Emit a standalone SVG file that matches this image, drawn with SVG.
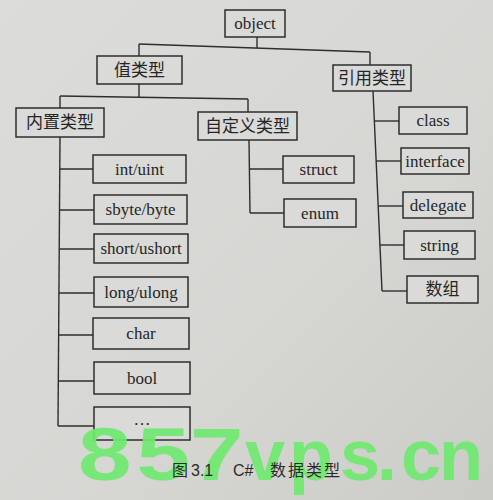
<svg xmlns="http://www.w3.org/2000/svg" width="493" height="500" viewBox="0 0 493 500">
<defs>
<linearGradient id="paper" x1="0" y1="0" x2="1" y2="1">
<stop offset="0" stop-color="#dcdcda"/>
<stop offset="0.6" stop-color="#d6d6d3"/>
<stop offset="1" stop-color="#cbcbc8"/>
</linearGradient>
<style>
.box{fill:#dadad8;stroke:#2e2e2e;stroke-width:1.5}
.t{font-family:"Liberation Serif","Noto Sans CJK SC",serif;font-size:17px;fill:#262626;text-anchor:middle;dominant-baseline:central}
.c{font-family:"Liberation Serif","Noto Sans CJK SC",serif;font-size:17px;fill:#262626;text-anchor:middle;dominant-baseline:central}
#connectors line{stroke:#2e2e2e;stroke-width:1.4;fill:none}
.wm{font-family:"Liberation Sans",Arial,sans-serif;font-weight:bold;fill:#6fe86f;fill-opacity:0.92}
.cap{font-family:"Liberation Sans","Noto Sans CJK SC",sans-serif;font-size:16px;fill:#2a2a2a}
</style>
</defs>
<rect x="0" y="0" width="493" height="500" fill="url(#paper)"/>

<g id="connectors">
<line x1="257" y1="37" x2="257" y2="48"/>
<line x1="139" y1="44" x2="370" y2="52"/>
<line x1="139" y1="44" x2="139" y2="56"/>
<line x1="370" y1="52" x2="370" y2="65"/>
<line x1="139" y1="84" x2="139" y2="97"/>
<line x1="60" y1="96" x2="248" y2="99"/>
<line x1="60" y1="96" x2="60" y2="108"/>
<line x1="248" y1="99" x2="248" y2="112"/>
<line x1="60" y1="137" x2="58" y2="426"/>
<line x1="59.8" y1="169" x2="93" y2="169"/>
<line x1="59.5" y1="210" x2="94" y2="210"/>
<line x1="59.2" y1="249" x2="94" y2="249"/>
<line x1="58.9" y1="293" x2="94" y2="293"/>
<line x1="58.6" y1="335" x2="93" y2="335"/>
<line x1="58.3" y1="381" x2="94" y2="381"/>
<line x1="58" y1="426" x2="94" y2="426"/>
<line x1="249" y1="140" x2="250" y2="213"/>
<line x1="249.5" y1="169" x2="283" y2="169"/>
<line x1="250" y1="213" x2="284" y2="213"/>
<line x1="373" y1="91" x2="382" y2="291"/>
<line x1="374.4" y1="121" x2="399" y2="121"/>
<line x1="376.2" y1="161" x2="401" y2="161"/>
<line x1="378.2" y1="206" x2="403" y2="206"/>
<line x1="379.9" y1="245" x2="404" y2="245"/>
<line x1="382" y1="291" x2="407" y2="291"/>
</g>

<g id="n-object"><rect class="box" x="225" y="10" width="60" height="27"/><text class="t" x="255" y="23">object</text></g>
<g id="n-value"><rect class="box" x="97" y="56" width="85" height="28"/><text class="c" x="139.5" y="70">值类型</text></g>
<g id="n-ref"><rect class="box" x="333" y="65" width="78" height="26"/><text class="c" x="372" y="78">引用类型</text></g>
<g id="n-builtin"><rect class="box" x="16" y="108" width="88" height="29"/><text class="c" x="60" y="122.5">内置类型</text></g>
<g id="n-custom"><rect class="box" x="198" y="112" width="99" height="28"/><text class="c" x="247.5" y="126">自定义类型</text></g>

<g id="n-int"><rect class="box" x="93" y="155" width="93" height="28"/><text class="t" x="139.5" y="169">int/uint</text></g>
<g id="n-sbyte"><rect class="box" x="94" y="195" width="93" height="29"/><text class="t" x="140.5" y="209.5">sbyte/byte</text></g>
<g id="n-short"><rect class="box" x="94" y="234" width="94" height="29"/><text class="t" x="141" y="248.5">short/ushort</text></g>
<g id="n-long"><rect class="box" x="94" y="277" width="94" height="30"/><text class="t" x="141" y="292">long/ulong</text></g>
<g id="n-char"><rect class="box" x="93" y="318" width="96" height="31"/><text class="t" x="141" y="333.5">char</text></g>
<g id="n-bool"><rect class="box" x="94" y="362" width="96" height="32"/><text class="t" x="142" y="378">bool</text></g>
<g id="n-etc"><rect class="box" x="94" y="407" width="96" height="33"/><text class="t" x="142" y="419">…</text></g>

<g id="n-struct"><rect class="box" x="283" y="156" width="71" height="27"/><text class="t" x="318.5" y="169.5">struct</text></g>
<g id="n-enum"><rect class="box" x="284" y="199" width="72" height="28"/><text class="t" x="320" y="213">enum</text></g>

<g id="n-class"><rect class="box" x="399" y="107" width="68" height="27"/><text class="t" x="433" y="120.5">class</text></g>
<g id="n-interface"><rect class="box" x="401" y="148" width="68" height="26"/><text class="t" x="435" y="161">interface</text></g>
<g id="n-delegate"><rect class="box" x="403" y="192" width="70" height="26"/><text class="t" x="438" y="205">delegate</text></g>
<g id="n-string"><rect class="box" x="404" y="231" width="71" height="28"/><text class="t" x="439.5" y="245">string</text></g>
<g id="n-array"><rect class="box" x="407" y="276" width="71" height="27"/><text class="c" x="442.5" y="289.5">数组</text></g>

<g id="watermark">
<text class="wm" font-size="74" transform="translate(82,480) scale(1.3,1)"><tspan x="-3" y="0">8</tspan><tspan x="42" y="0">5</tspan><tspan x="83" y="0">7</tspan></text>
<text class="wm" font-size="72" y="480"><tspan x="245">v</tspan><tspan x="289">p</tspan><tspan x="340">s</tspan><tspan x="377">.</tspan><tspan x="401">c</tspan><tspan x="439">n</tspan></text>
</g>
<text class="cap" y="476"><tspan x="172">图</tspan><tspan x="191">3.1</tspan><tspan x="233">C#</tspan><tspan x="270" letter-spacing="2">数据类型</tspan></text>
</svg>
